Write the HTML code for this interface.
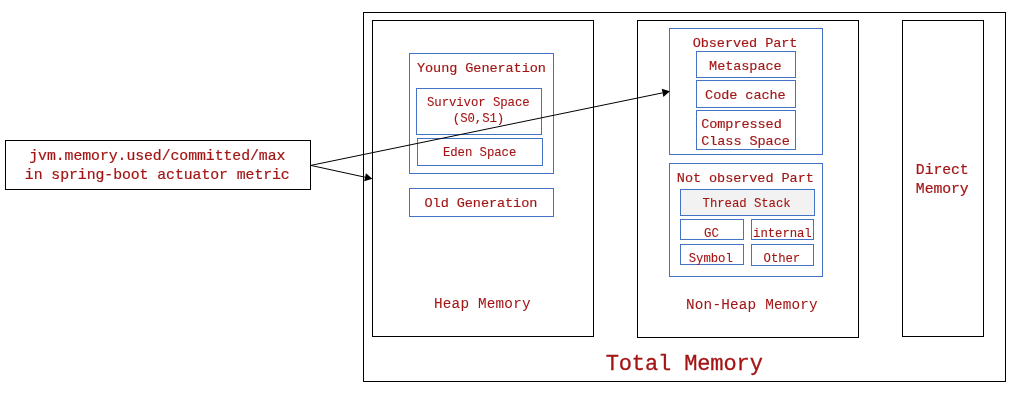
<!DOCTYPE html>
<html lang="en">
<head>
<meta charset="utf-8">
<title>JVM Memory</title>
<style>
html,body{margin:0;padding:0;background:#fff;}
body{width:1028px;height:402px;overflow:hidden;position:relative;}
.b{position:absolute;box-sizing:border-box;border:1px solid #000;}
svg{position:absolute;left:0;top:0;will-change:transform;}
text{font-family:"Liberation Mono","DejaVu Sans Mono",monospace;fill:#a31515;stroke:#a31515;white-space:pre;}
</style>
</head>
<body>
<div class="b" style="left:363px;top:12px;width:643px;height:370px;border-color:#000;"></div>
<div class="b" style="left:372px;top:20px;width:222px;height:317px;border-color:#000;"></div>
<div class="b" style="left:637px;top:20px;width:222px;height:318px;border-color:#000;"></div>
<div class="b" style="left:902px;top:20px;width:82px;height:317px;border-color:#000;"></div>
<div class="b" style="left:5px;top:140px;width:306px;height:50px;border-color:#000;background:#fff;"></div>
<div class="b" style="left:409px;top:53px;width:145px;height:121px;border-color:#4472c4;"></div>
<div class="b" style="left:416px;top:88px;width:126px;height:47px;border-color:#4472c4;"></div>
<div class="b" style="left:417px;top:138px;width:126px;height:28px;border-color:#4472c4;"></div>
<div class="b" style="left:409px;top:188px;width:145px;height:29px;border-color:#4472c4;"></div>
<div class="b" style="left:669px;top:28px;width:154px;height:127px;border-color:#4472c4;"></div>
<div class="b" style="left:696px;top:51px;width:100px;height:27px;border-color:#4472c4;"></div>
<div class="b" style="left:696px;top:80px;width:100px;height:28px;border-color:#4472c4;"></div>
<div class="b" style="left:696px;top:110px;width:100px;height:40px;border-color:#4472c4;"></div>
<div class="b" style="left:669px;top:163px;width:154px;height:114px;border-color:#4472c4;"></div>
<div class="b" style="left:680px;top:189px;width:135px;height:27px;border-color:#4472c4;background:#f2f2f2;"></div>
<div class="b" style="left:680px;top:219px;width:64px;height:21px;border-color:#4472c4;"></div>
<div class="b" style="left:751px;top:219px;width:63px;height:21px;border-color:#4472c4;"></div>
<div class="b" style="left:680px;top:244px;width:64px;height:21px;border-color:#4472c4;"></div>
<div class="b" style="left:751px;top:244px;width:63px;height:22px;border-color:#4472c4;"></div>
<svg width="1028" height="402" viewBox="0 0 1028 402">
<line x1="310.75" y1="165.4" x2="365.07" y2="177.21" stroke="#000" stroke-width="1"/><polygon points="372.4,178.8 364.20,181.21 365.94,173.20" fill="#000"/>
<line x1="310.75" y1="165.4" x2="662.55" y2="92.86" stroke="#000" stroke-width="1"/><polygon points="669.9,91.35 663.38,96.88 661.73,88.85" fill="#000"/>
<text x="29.27" y="160" font-size="14.800" letter-spacing="-0.051" stroke-width="0.2" xml:space="preserve">jvm.memory.used/committed/max</text>
<text x="24.85" y="179" font-size="14.800" letter-spacing="-0.051" stroke-width="0.2" xml:space="preserve">in spring-boot actuator metric</text>
<text x="416.99" y="72" font-size="13.567" letter-spacing="-0.078" stroke-width="0.15" xml:space="preserve">Young Generation</text>
<text x="426.99" y="106" font-size="12.333" letter-spacing="-0.071" stroke-width="0.1" xml:space="preserve">Survivor Space</text>
<text x="452.84" y="122" font-size="12.333" letter-spacing="-0.071" stroke-width="0.1" xml:space="preserve">(S0,S1)</text>
<text x="442.95" y="156" font-size="12.333" letter-spacing="-0.071" stroke-width="0.1" xml:space="preserve">Eden Space</text>
<text x="424.55" y="207" font-size="13.567" letter-spacing="-0.078" stroke-width="0.15" xml:space="preserve">Old Generation</text>
<text x="434.00" y="308" font-size="14.338" letter-spacing="0.196" stroke-width="0.05" xml:space="preserve">Heap Memory</text>
<text x="692.68" y="47" font-size="13.567" letter-spacing="-0.078" stroke-width="0.15" xml:space="preserve">Observed Part</text>
<text x="709.11" y="70" font-size="13.567" letter-spacing="-0.078" stroke-width="0.15" xml:space="preserve">Metaspace</text>
<text x="705.08" y="99" font-size="13.567" letter-spacing="-0.078" stroke-width="0.15" xml:space="preserve">Code cache</text>
<text x="701.20" y="128" font-size="13.567" letter-spacing="-0.078" stroke-width="0.15" xml:space="preserve">Compressed</text>
<text x="701.20" y="145" font-size="13.567" letter-spacing="-0.078" stroke-width="0.15" xml:space="preserve">Class Space</text>
<text x="676.86" y="182" font-size="13.567" letter-spacing="-0.078" stroke-width="0.15" xml:space="preserve">Not observed Part</text>
<text x="702.62" y="207" font-size="12.333" letter-spacing="-0.071" stroke-width="0.1" xml:space="preserve">Thread Stack</text>
<text x="704.07" y="237" font-size="12.333" letter-spacing="-0.071" stroke-width="0.1" xml:space="preserve">GC</text>
<text x="753.08" y="237" font-size="12.333" letter-spacing="-0.071" stroke-width="0.1" xml:space="preserve">internal</text>
<text x="688.76" y="262" font-size="12.333" letter-spacing="-0.071" stroke-width="0.1" xml:space="preserve">Symbol</text>
<text x="763.57" y="262" font-size="12.333" letter-spacing="-0.071" stroke-width="0.1" xml:space="preserve">Other</text>
<text x="686.00" y="309" font-size="14.338" letter-spacing="0.196" stroke-width="0.05" xml:space="preserve">Non-Heap Memory</text>
<text x="605.65" y="370" font-size="22.015" letter-spacing="-0.111" stroke-width="0.3" xml:space="preserve">Total Memory</text>
<text x="915.86" y="174" font-size="14.800" letter-spacing="-0.085" stroke-width="0.2" xml:space="preserve">Direct</text>
<text x="915.86" y="193" font-size="14.800" letter-spacing="-0.085" stroke-width="0.2" xml:space="preserve">Memory</text>
</svg>
</body>
</html>
